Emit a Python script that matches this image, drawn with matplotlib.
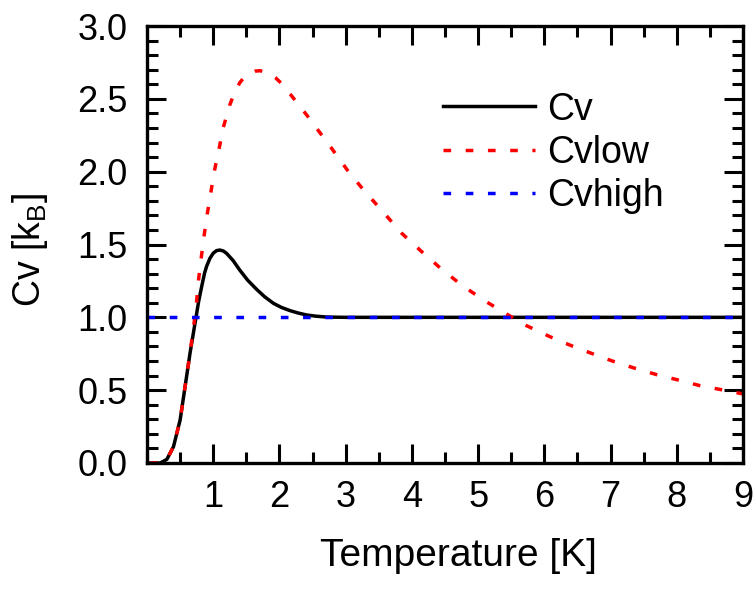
import matplotlib
matplotlib.use("Agg")
import matplotlib.pyplot as plt
from matplotlib.ticker import MultipleLocator, FixedLocator

plt.rcParams['font.family'] = ['Liberation Sans', 'DejaVu Sans']
plt.rcParams['mathtext.fontset'] = 'custom'
plt.rcParams['mathtext.rm'] = 'Liberation Sans'

# values
t_cv = [0.05, 0.2, 0.3, 0.4, 0.5, 0.575, 0.65, 0.74, 0.78, 0.825, 0.87, 0.9, 0.95,
        1.0, 1.05, 1.1, 1.15, 1.2, 1.25, 1.3, 1.4, 1.52, 1.66, 1.78, 1.91, 2.03,
        2.16, 2.28, 2.41, 2.55, 2.71, 3.0, 4.0, 5.0, 6.0, 7.0, 8.0, 9.0]
cv = [0.0, 0.0, 0.025, 0.112, 0.295, 0.524, 0.755, 1.0, 1.11, 1.21, 1.305, 1.35, 1.405,
      1.44, 1.458, 1.462, 1.456, 1.44, 1.415, 1.39, 1.325, 1.255, 1.19, 1.14, 1.096,
      1.068, 1.046, 1.03, 1.016, 1.008, 1.002, 1.0, 1.0, 1.0, 1.0, 1.0, 1.0, 1.0]

t_low = [0.05, 0.2, 0.3, 0.4, 0.5, 0.575, 0.65, 0.74, 0.775, 0.815, 0.86, 0.91,
         0.962, 1.017, 1.087, 1.15, 1.25, 1.32, 1.4, 1.47, 1.55, 1.63, 1.706,
         1.78, 1.85, 1.94, 2.03, 2.15, 2.285, 2.41, 2.537, 2.78, 3.025, 3.29,
         3.54, 3.846, 4.148, 4.45, 4.75, 5.08, 5.41, 5.73, 6.085, 6.41, 6.74,
         7.04, 7.37, 7.70, 8.02, 8.35, 8.70, 9.0]
cv_low = [0.0, 0.0, 0.025, 0.112, 0.295, 0.524, 0.755, 1.06, 1.245, 1.394, 1.554,
          1.71, 1.851, 2.004, 2.153, 2.30, 2.458, 2.54, 2.61, 2.65, 2.675, 2.69,
          2.693, 2.686, 2.672, 2.645, 2.606, 2.54, 2.462, 2.39, 2.313, 2.165,
          2.011, 1.863, 1.737, 1.577, 1.451, 1.33, 1.222, 1.119, 1.028, 0.943,
          0.867, 0.805, 0.748, 0.698, 0.65, 0.606, 0.57, 0.531, 0.501, 0.474]

t_high = [0.0, 9.0]
cv_high = [1.0, 1.0]

x_major = [1, 2, 3, 4, 5, 6, 7, 8, 9]

fig = plt.figure(figsize=(7.54, 5.9), dpi=100)
ax = fig.add_axes([147/754, 1 - 463/590, 596/754, 437/590])

lw = 2.5
ax.plot(t_cv, cv, color='black', lw=lw, label='Cv')
ax.plot(t_low, cv_low, color='red', lw=lw, dashes=(2.2, 4.2), label='Cvlow')
ax.plot(t_high, cv_high, color='blue', lw=lw, dashes=(2.2, 4.2), label='Cvhigh')

ax.set_xlim(0, 9)
ax.set_ylim(0, 3.0)
ax.xaxis.set_major_locator(FixedLocator(x_major))
ax.xaxis.set_minor_locator(MultipleLocator(0.5))
ax.yaxis.set_major_locator(MultipleLocator(0.5))
ax.yaxis.set_minor_locator(MultipleLocator(0.1))
ax.yaxis.set_major_formatter(matplotlib.ticker.FormatStrFormatter('%.1f'))

for s in ax.spines.values():
    s.set_linewidth(2.4)
ax.tick_params(which='both', direction='in', top=True, right=True, width=2.2)
ax.tick_params(which='major', length=14, labelsize=26, pad=12)
ax.tick_params(which='minor', length=8)
ax.tick_params(axis='y', pad=14)

ax.set_xlabel('Temperature [K]', fontsize=28)
ax.set_ylabel('Cv [k$_\\mathregular{B}$]', fontsize=27)
ax.xaxis.set_label_coords(0.523, -0.172)
ax.yaxis.set_label_coords(-0.162, 0.487)

ax.legend(loc='center left', bbox_to_anchor=(443/754, 1 - 153/590),
          bbox_transform=fig.transFigure, frameon=False, fontsize=27,
          handlelength=2.45, handletextpad=0.32, labelspacing=0.2,
          borderpad=0, borderaxespad=0)

fig.savefig('out.png', dpi=100)
